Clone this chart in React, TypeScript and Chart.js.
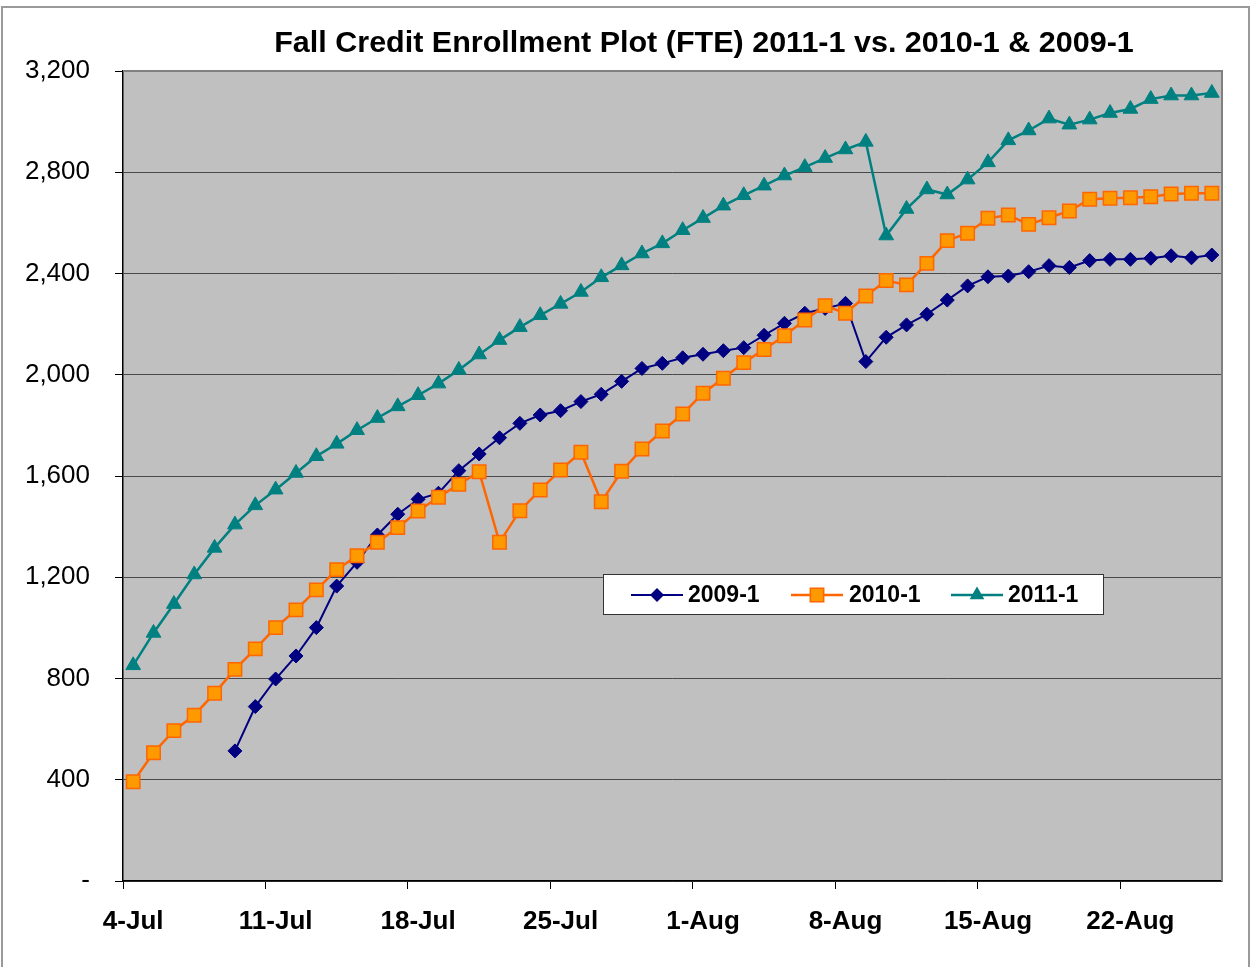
import React, { useEffect, useRef } from 'react';
import { Chart, registerables } from 'chart.js';

Chart.register(...registerables);

const dateLabels: string[] = [
  '4-Jul', '5-Jul', '6-Jul', '7-Jul', '8-Jul', '9-Jul', '10-Jul',
  '11-Jul', '12-Jul', '13-Jul', '14-Jul', '15-Jul', '16-Jul', '17-Jul',
  '18-Jul', '19-Jul', '20-Jul', '21-Jul', '22-Jul', '23-Jul', '24-Jul',
  '25-Jul', '26-Jul', '27-Jul', '28-Jul', '29-Jul', '30-Jul', '31-Jul',
  '1-Aug', '2-Aug', '3-Aug', '4-Aug', '5-Aug', '6-Aug', '7-Aug',
  '8-Aug', '9-Aug', '10-Aug', '11-Aug', '12-Aug', '13-Aug', '14-Aug',
  '15-Aug', '16-Aug', '17-Aug', '18-Aug', '19-Aug', '20-Aug', '21-Aug',
  '22-Aug', '23-Aug', '24-Aug', '25-Aug', '26-Aug',
];

const tickLabels: string[] = ['4-Jul', '11-Jul', '18-Jul', '25-Jul', '1-Aug', '8-Aug', '15-Aug', '22-Aug'];

const series2009: (number | null)[] = [
  null, null, null, null, null, 514, 689,
  798, 889, 1001, 1165, 1259, 1367, 1449,
  1508, 1532, 1621, 1687, 1751, 1808, 1841,
  1858, 1894, 1923, 1974, 2025, 2045, 2067,
  2081, 2095, 2107, 2156, 2203, 2243, 2262,
  2282, 2052, 2148, 2197, 2239, 2295, 2351,
  2387, 2390, 2407, 2431, 2424, 2451, 2456,
  2456, 2460, 2470, 2462, 2473,
];

const series2010: number[] = [
  392, 507, 594, 655, 742, 836, 917,
  1001, 1071, 1150, 1230, 1285, 1338, 1396,
  1462, 1516, 1567, 1617, 1338, 1463, 1545,
  1624, 1694, 1498, 1619, 1707, 1778, 1845,
  1927, 1986, 2048, 2100, 2154, 2216, 2273,
  2243, 2311, 2372, 2355, 2440, 2530, 2559,
  2618, 2631, 2594, 2620, 2647, 2693, 2697,
  2699, 2703, 2714, 2717, 2717,
];

const series2011: number[] = [
  852, 980, 1094, 1211, 1316, 1408, 1484,
  1546, 1612, 1678, 1727, 1781, 1829, 1875,
  1919, 1965, 2019, 2080, 2137, 2188, 2235,
  2280, 2327, 2385, 2432, 2479, 2519, 2571,
  2619, 2668, 2709, 2747, 2787, 2820, 2856,
  2890, 2920, 2550, 2655, 2732, 2712, 2771,
  2839, 2926, 2965, 3012, 2988, 3008, 3034,
  3050, 3089, 3103, 3103, 3113,
];

const seriesNames: string[] = ['2009-1', '2010-1', '2011-1'];
const titleText = 'Fall Credit Enrollment Plot (FTE) 2011-1 vs. 2010-1 & 2009-1';

const FONT = '"Liberation Sans", Arial, sans-serif';
const NAVY = '#000080';
const ORANGE = '#FF6600';
const ORANGE_FILL = '#FF9900';
const TEAL = '#008080';

function drawMarker(ctx: CanvasRenderingContext2D, kind: string, cx: number, cy: number) {
  ctx.save();
  ctx.beginPath();
  if (kind === 'diamond') {
    const r = 7;
    ctx.moveTo(cx, cy - r);
    ctx.lineTo(cx + r, cy);
    ctx.lineTo(cx, cy + r);
    ctx.lineTo(cx - r, cy);
    ctx.closePath();
    ctx.fillStyle = NAVY;
    ctx.fill();
  } else if (kind === 'square') {
    const h = 6.7;
    ctx.rect(cx - h, cy - h, 2 * h, 2 * h);
    ctx.fillStyle = ORANGE_FILL;
    ctx.fill();
    ctx.lineWidth = 1.5;
    ctx.strokeStyle = ORANGE;
    ctx.stroke();
  } else {
    const r = 8.5;
    ctx.moveTo(cx, cy - r);
    ctx.lineTo(cx + r * Math.sin((2 * Math.PI) / 3), cy - r * Math.cos((2 * Math.PI) / 3));
    ctx.lineTo(cx + r * Math.sin((4 * Math.PI) / 3), cy - r * Math.cos((4 * Math.PI) / 3));
    ctx.closePath();
    ctx.fillStyle = TEAL;
    ctx.fill();
  }
  ctx.restore();
}

const decorPlugin = {
  id: 'decor',
  beforeDraw(chart: any) {
    const { ctx, chartArea: a } = chart;
    ctx.save();
    ctx.fillStyle = '#ffffff';
    ctx.fillRect(0, 0, chart.width, chart.height);
    ctx.strokeStyle = '#9a9a9a';
    ctx.lineWidth = 2;
    ctx.strokeRect(2, 7, 1247, 990);
    ctx.fillStyle = '#C0C0C0';
    ctx.fillRect(a.left, a.top, a.right - a.left, a.bottom - a.top);
    ctx.restore();
  },
  afterDraw(chart: any) {
    const { ctx, chartArea: a } = chart;
    ctx.save();
    // plot border top & right
    ctx.strokeStyle = '#808080';
    ctx.lineWidth = 2;
    ctx.beginPath();
    ctx.moveTo(a.left, a.top);
    ctx.lineTo(a.right, a.top);
    ctx.lineTo(a.right, a.bottom);
    ctx.stroke();

    // title (slightly widened like the original rendering)
    ctx.save();
    ctx.translate(704, 52);
    ctx.scale(1.052, 1);
    ctx.fillStyle = '#000';
    ctx.font = `bold 29px ${FONT}`;
    ctx.textAlign = 'center';
    ctx.textBaseline = 'alphabetic';
    ctx.fillText(titleText, 0, 0);
    ctx.restore();

    // legend
    ctx.fillStyle = '#ffffff';
    ctx.fillRect(603.5, 574.5, 500, 40);
    ctx.strokeStyle = '#333';
    ctx.lineWidth = 1;
    ctx.strokeRect(603.5, 574.5, 500, 40);
    const items = [
      { name: seriesNames[0], color: NAVY, kind: 'diamond', x0: 631, x1: 683, m: 657, tx: 688, lw: 2 },
      { name: seriesNames[1], color: ORANGE, kind: 'square', x0: 791, x1: 843, m: 817, tx: 849, lw: 2.5 },
      { name: seriesNames[2], color: TEAL, kind: 'triangle', x0: 951, x1: 1003, m: 977, tx: 1008, lw: 2.5 },
    ];
    const ly = 595;
    for (const it of items) {
      ctx.strokeStyle = it.color;
      ctx.lineWidth = it.lw;
      ctx.beginPath();
      ctx.moveTo(it.x0, ly);
      ctx.lineTo(it.x1, ly);
      ctx.stroke();
      drawMarker(ctx, it.kind, it.m, ly);
      ctx.fillStyle = '#000';
      ctx.font = `bold 23px ${FONT}`;
      ctx.textAlign = 'left';
      ctx.textBaseline = 'middle';
      ctx.fillText(it.name, it.tx, ly + 1);
    }
    ctx.restore();
  },
};

export default function App() {
  const canvasRef = useRef<HTMLCanvasElement | null>(null);

  useEffect(() => {
    document.body.style.margin = '0';
    const canvas = canvasRef.current;
    if (!canvas) return;
    const tickSet = new Set(tickLabels);
    const chart = new Chart(canvas, {
      type: 'line',
      data: {
        labels: dateLabels,
        datasets: [
          {
            label: seriesNames[0],
            data: series2009,
            order: 2,
            borderColor: NAVY,
            backgroundColor: NAVY,
            borderWidth: 2,
            pointStyle: 'rectRot',
            pointRadius: 7,
            pointBorderWidth: 1,
            pointBorderColor: NAVY,
            pointBackgroundColor: NAVY,
            tension: 0,
            fill: false,
          },
          {
            label: seriesNames[1],
            data: series2010,
            order: 1,
            borderColor: ORANGE,
            backgroundColor: ORANGE_FILL,
            borderWidth: 2.5,
            pointStyle: 'rect',
            pointRadius: 9.5,
            pointBorderWidth: 1.5,
            pointBorderColor: ORANGE,
            pointBackgroundColor: ORANGE_FILL,
            tension: 0,
            fill: false,
          },
          {
            label: seriesNames[2],
            data: series2011,
            order: 0,
            borderColor: TEAL,
            backgroundColor: TEAL,
            borderWidth: 2.5,
            pointStyle: 'triangle',
            pointRadius: 8.5,
            pointBorderWidth: 1,
            pointBorderColor: TEAL,
            pointBackgroundColor: TEAL,
            tension: 0,
            fill: false,
          },
        ],
      },
      options: {
        responsive: false,
        animation: false,
        devicePixelRatio: 1,
        layout: { padding: { left: 0, right: 35, top: 71, bottom: 0 } },
        plugins: {
          legend: { display: false },
          title: { display: false },
          tooltip: { enabled: false },
        },
        scales: {
          x: {
            type: 'category',
            offset: true,
            afterFit: (scale: any) => {
              scale.height = 86;
            },
            grid: {
              offset: true,
              drawOnChartArea: false,
              drawTicks: true,
              tickLength: 8,
              lineWidth: 1,
              color: (c: any) => (tickSet.has(dateLabels[c.index]) ? '#000000' : 'rgba(0,0,0,0)'),
            },
            border: { display: true, color: '#000000', width: 1.5 },
            ticks: {
              autoSkip: false,
              maxRotation: 0,
              minRotation: 0,
              padding: 17,
              color: '#000',
              font: { family: FONT, size: 26, weight: 'bold' },
              callback: (_v: any, i: number) => (tickSet.has(dateLabels[i]) ? dateLabels[i] : ''),
            },
          },
          y: {
            min: 0,
            max: 3200,
            afterFit: (scale: any) => {
              scale.width = 123;
            },
            grid: {
              color: '#4a4a4a',
              lineWidth: 1,
              tickLength: 8,
              tickColor: '#000',
            },
            border: { display: true, color: '#000000', width: 1.5 },
            ticks: {
              stepSize: 400,
              padding: 25,
              color: '#000',
              font: { family: FONT, size: 26 },
              callback: (v: any) => (Number(v) === 0 ? '-' : Number(v).toLocaleString('en-US')),
            },
          },
        },
      },
      plugins: [decorPlugin],
    } as any);
    return () => {
      chart.destroy();
    };
  }, []);

  return (
    <div style={{ width: 1257, height: 967 }}>
      <canvas ref={canvasRef} width={1257} height={967} style={{ display: 'block' }} />
    </div>
  );
}
